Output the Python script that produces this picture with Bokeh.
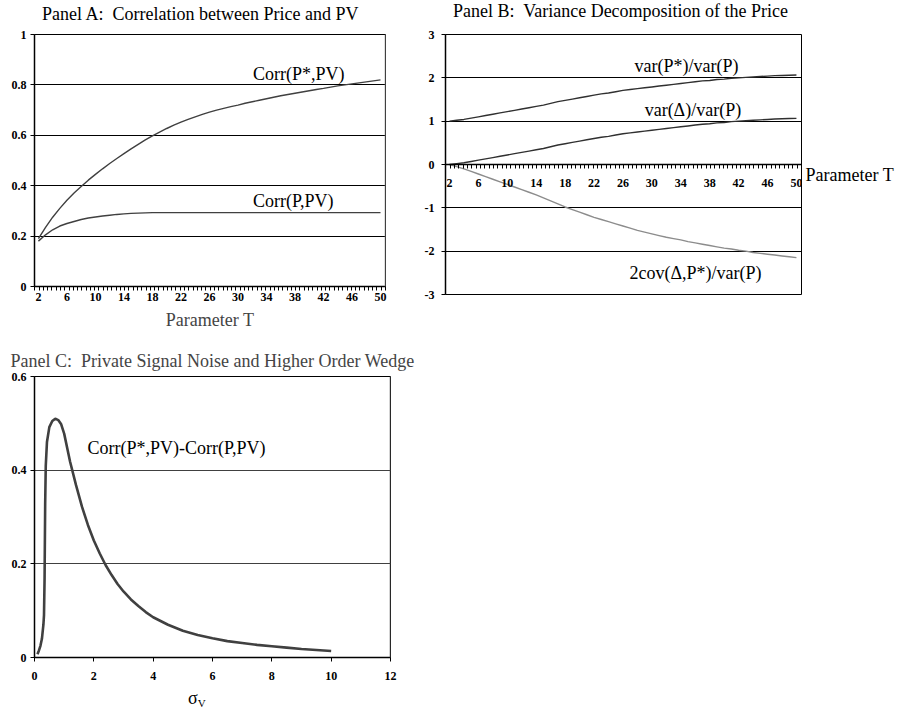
from bokeh.plotting import figure
from bokeh.layouts import column, row
from bokeh.models import (Range1d, FixedTicker, NumeralTickFormatter, Label, Span,
                          LinearAxis, CustomJSTickFormatter, Div)
from bokeh.embed import file_html
from bokeh.resources import INLINE

# ---------------- data ----------------
T = list(range(2, 51))
x_tick_labels = list(range(2, 51, 4))

corr_pstar_pv = [0.190, 0.235, 0.275, 0.310, 0.342, 0.371, 0.397, 0.422, 0.445, 0.467,
                 0.488, 0.508, 0.527, 0.546, 0.564, 0.582, 0.598, 0.613, 0.627, 0.640,
                 0.652, 0.663, 0.673, 0.683, 0.692, 0.700, 0.707, 0.714, 0.720, 0.727,
                 0.733, 0.739, 0.745, 0.751, 0.757, 0.762, 0.767, 0.772, 0.777, 0.782,
                 0.786, 0.791, 0.796, 0.800, 0.804, 0.808, 0.812, 0.816, 0.820]
corr_p_pv = [0.180, 0.205, 0.225, 0.240, 0.250, 0.258, 0.266, 0.272, 0.276, 0.280,
             0.283, 0.286, 0.288, 0.290, 0.291, 0.292, 0.293, 0.293, 0.293, 0.293,
             0.293, 0.293, 0.293, 0.293, 0.293, 0.293, 0.293, 0.293, 0.293, 0.293,
             0.293, 0.293, 0.293, 0.293, 0.293, 0.293, 0.293, 0.293, 0.293, 0.293,
             0.293, 0.293, 0.293, 0.293, 0.293, 0.293, 0.293, 0.293, 0.293]

var_pstar = [1.00, 1.02, 1.04, 1.07, 1.10, 1.13, 1.16, 1.19, 1.22, 1.25,
             1.28, 1.31, 1.34, 1.37, 1.41, 1.45, 1.48, 1.51, 1.54, 1.57,
             1.60, 1.63, 1.65, 1.68, 1.71, 1.73, 1.75, 1.77, 1.79, 1.81,
             1.83, 1.85, 1.87, 1.89, 1.91, 1.93, 1.94, 1.96, 1.97, 1.99,
             2.00, 2.01, 2.02, 2.03, 2.04, 2.05, 2.055, 2.06, 2.065]
var_delta = [0.00, 0.02, 0.04, 0.07, 0.10, 0.13, 0.16, 0.19, 0.22, 0.25,
             0.28, 0.31, 0.34, 0.37, 0.41, 0.45, 0.48, 0.51, 0.54, 0.57,
             0.60, 0.63, 0.65, 0.68, 0.71, 0.73, 0.75, 0.77, 0.79, 0.81,
             0.83, 0.85, 0.87, 0.89, 0.91, 0.93, 0.94, 0.96, 0.97, 0.99,
             1.00, 1.01, 1.02, 1.03, 1.04, 1.05, 1.055, 1.06, 1.065]
cov2 = [0.00, -0.05, -0.10, -0.16, -0.22, -0.28, -0.34, -0.40, -0.46, -0.52,
        -0.58, -0.64, -0.70, -0.77, -0.84, -0.91, -0.98, -1.04, -1.10, -1.16,
        -1.22, -1.27, -1.32, -1.37, -1.42, -1.47, -1.52, -1.56, -1.60, -1.64,
        -1.68, -1.71, -1.74, -1.78, -1.81, -1.84, -1.87, -1.90, -1.93, -1.95,
        -1.98, -2.00, -2.03, -2.05, -2.07, -2.09, -2.11, -2.13, -2.15]

sigma_v = [0.10, 0.15, 0.20, 0.25, 0.30, 0.32, 0.34, 0.36, 0.38, 0.42,
           0.50, 0.60, 0.70, 0.80, 0.90, 1.00, 1.20, 1.40, 1.60, 1.80,
           2.00, 2.20, 2.40, 2.60, 2.80, 3.00, 3.25, 3.50, 3.75, 4.00,
           4.50, 5.00, 5.50, 6.00, 6.50, 7.00, 7.50, 8.00, 8.50, 9.00,
           9.50, 10.00]
wedge = [0.007, 0.015, 0.025, 0.040, 0.070, 0.090, 0.170, 0.330, 0.410, 0.460,
         0.492, 0.505, 0.510, 0.507, 0.498, 0.478, 0.418, 0.368, 0.322, 0.283,
         0.250, 0.222, 0.197, 0.176, 0.157, 0.141, 0.124, 0.110, 0.097, 0.086,
         0.070, 0.057, 0.048, 0.041, 0.035, 0.031, 0.027, 0.024, 0.021, 0.018,
         0.016, 0.014]

yA_ticks = [0, 0.2, 0.4, 0.6, 0.8, 1.0]
yB_ticks = [-3, -2, -1, 0, 1, 2, 3]
yC_ticks = [0, 0.2, 0.4, 0.6]
xC_ticks = [0, 2, 4, 6, 8, 10, 12]

SERIF = "Liberation Serif"
minor_T = [1.5 + 0.6 * i for i in range(83)]


def style(p):
    p.title.text_font = SERIF
    p.title.text_font_style = "normal"
    p.title.text_font_size = "18px"
    p.title.align = "center"
    p.title.standoff = 10
    p.outline_line_color = "black"
    p.outline_line_width = 1
    p.background_fill_color = "white"
    p.border_fill_color = "white"
    p.xgrid.grid_line_color = None
    for ax in list(p.xaxis) + list(p.yaxis):
        ax.axis_line_color = "black"
        ax.axis_line_width = 1.5
        ax.major_tick_line_color = "black"
        ax.minor_tick_line_color = "black"
        ax.major_tick_in = 0
        ax.major_tick_out = 4
        ax.minor_tick_in = 0
        ax.minor_tick_out = 0
        ax.major_label_text_font = SERIF
        ax.major_label_text_font_style = "bold"
        ax.major_label_text_font_size = "12px"
        ax.major_label_text_color = "black"
        ax.major_label_standoff = 4
        ax.axis_label_text_font = SERIF
        ax.axis_label_text_font_style = "normal"
        ax.axis_label_text_font_size = "18px"


def label(p, x, y, text):
    p.add_layout(Label(x=x, y=y, text=text, text_font=SERIF, text_font_size="18px",
                       text_color="black", text_baseline="bottom"))


def title_div(text, width, pad_left, pad_top):
    return Div(text=('<div style="font-family:\'Liberation Serif\';font-size:18px;'
                     'line-height:20px;white-space:nowrap;color:black;'
                     f'padding-left:{pad_left}px;padding-top:{pad_top}px;">{text}</div>'),
               width=width, height=24, margin=(0, 0, 0, 0))


titleA = title_div("Panel A:&nbsp; Correlation between Price and PV", 400, 42, 4)
titleB = title_div("Panel B:&nbsp; Variance Decomposition of the Price", 496, 53, 1)

# ---------------- Panel A ----------------
pA = figure(width=400, height=308, output_backend="svg", toolbar_location=None,
            x_range=Range1d(1.45, 50.7), y_range=Range1d(0, 1),
            min_border_left=34, min_border_right=15, min_border_top=10, min_border_bottom=44)
style(pA)
pA.xaxis.ticker = FixedTicker(ticks=x_tick_labels, minor_ticks=minor_T)
pA.xaxis.major_tick_out = 0
pA.xaxis.minor_tick_out = 4
pA.xaxis.axis_label = "Parameter T"
pA.xaxis.axis_label_standoff = 6
pA.xaxis.major_label_standoff = 2
pA.yaxis.ticker = FixedTicker(ticks=yA_ticks)
pA.yaxis.formatter = NumeralTickFormatter(format="0.[0]")
pA.ygrid.grid_line_color = "black"
pA.ygrid.grid_line_width = 1
pA.add_layout(Span(location=50.7, dimension="height", line_color="#808080", line_width=1.5))
pA.line(T, corr_pstar_pv, line_color="#404040", line_width=1.4)
pA.line(T, corr_p_pv, line_color="#404040", line_width=1.4)
label(pA, 32.1, 0.804, "Corr(P*,PV)")
label(pA, 32.1, 0.298, "Corr(P,PV)")

# ---------------- Panel B ----------------
pB = figure(width=496, height=316, output_backend="svg", toolbar_location=None,
            x_range=Range1d(1.45, 50.7), y_range=Range1d(-3, 3),
            min_border_left=45, min_border_right=93, min_border_top=10, min_border_bottom=44)
style(pB)
pB.xaxis.fixed_location = 0
pB.xaxis.ticker = FixedTicker(ticks=x_tick_labels, minor_ticks=minor_T)
pB.xaxis.major_tick_out = 0
pB.xaxis.minor_tick_out = 4
pB.xaxis.major_label_standoff = 10
pB.yaxis.ticker = FixedTicker(ticks=yB_ticks)
pB.yaxis.formatter = NumeralTickFormatter(format="0")
pB.yaxis.major_label_standoff = 7
pB.ygrid.grid_line_color = "black"
pB.ygrid.grid_line_width = 1
pB.line(T, var_pstar, line_color="#303030", line_width=1.4)
pB.line(T, var_delta, line_color="#303030", line_width=1.4)
pB.line(T, cov2, line_color="#8c8c8c", line_width=1.4)
label(pB, 27.6, 2.04, "var(P*)/var(P)")
label(pB, 29.0, 1.02, "var(Δ)/var(P)")
label(pB, 26.9, -2.73, "2cov(Δ,P*)/var(P)")
# "Parameter T" written beside the right end of the zero axis
axR = LinearAxis(ticker=FixedTicker(ticks=[-0.25]),
                 formatter=CustomJSTickFormatter(code="return 'Parameter T';"))
axR.axis_line_color = None
axR.major_tick_line_color = None
axR.minor_tick_line_color = None
axR.major_tick_out = 0
axR.major_label_standoff = 4
axR.major_label_text_font = SERIF
axR.major_label_text_font_size = "18px"
axR.major_label_text_color = "black"
pB.add_layout(axR, "right")

# ---------------- Panel C ----------------
pC = figure(width=420, height=350, output_backend="svg", toolbar_location=None,
            x_range=Range1d(0, 12), y_range=Range1d(0, 0.6),
            title="Panel C:\u00a0 Private Signal Noise and Higher Order Wedge",
            min_border_left=34, min_border_right=30, min_border_top=36, min_border_bottom=33)
style(pC)
pC.title.standoff = 11
pC.xaxis.ticker = FixedTicker(ticks=xC_ticks)
pC.xaxis.formatter = NumeralTickFormatter(format="0")
pC.xaxis.major_label_standoff = 10
pC.yaxis.ticker = FixedTicker(ticks=yC_ticks)
pC.yaxis.formatter = NumeralTickFormatter(format="0.[0]")
pC.ygrid.grid_line_color = "#404040"
pC.ygrid.grid_line_width = 1
pC.add_layout(Span(location=12, dimension="height", line_color="#505050", line_width=1.5))
pC.line(sigma_v, wedge, line_color="#404040", line_width=2.6)
label(pC, 1.79, 0.427, "Corr(P*,PV)-Corr(P,PV)")

sigma_label = Div(
    text=('<div style="font-family:\'Liberation Serif\';font-size:18px;line-height:17px;'
          'padding-left:188px;color:black;">σ<sub style="font-size:11px;line-height:0;'
          'vertical-align:-3px;">V</sub></div>'),
    width=420, height=17, margin=(0, 0, 0, 0))

layout = column(row(titleA, titleB), row(pA, pB), pC, sigma_label)
open("out.html", "w").write(file_html(layout, INLINE))
